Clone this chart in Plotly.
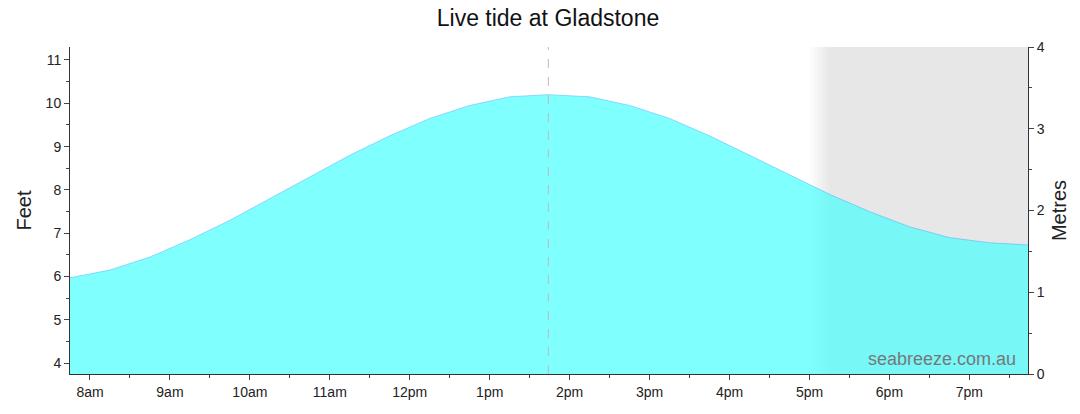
import plotly.graph_objects as go
from datetime import datetime, timedelta

times = ["07:45","08:15","08:45","09:15","09:45","10:15","10:45","11:15","11:45","12:15","12:45","13:15","13:44",
         "14:15","14:45","15:15","15:45","16:15","16:45","17:15","17:45","18:15","18:45","19:15","19:44"]
feet = [5.97,6.15,6.45,6.85,7.3,7.8,8.3,8.8,9.25,9.65,9.95,10.15,10.2,
        10.15,9.95,9.65,9.25,8.8,8.35,7.9,7.5,7.15,6.9,6.78,6.73]
tick_hours = [8,9,10,11,12,13,14,15,16,17,18,19]
tick_labels = ["8am","9am","10am","11am","12pm","1pm","2pm","3pm","4pm","5pm","6pm","7pm"]

d = "2024-01-01 "
x = [d + t for t in times]
fig = go.Figure()
fig.add_trace(go.Scatter(x=x, y=feet, mode="lines", fill="tozeroy", fillcolor="#80FFFF",
                         line=dict(color="#66BBFF", width=0.6), hoverinfo="skip"))
fig.add_trace(go.Scatter(x=[x[0]], y=[0], yaxis="y2", mode="markers", marker=dict(opacity=0), showlegend=False))

shapes = []
start = datetime(2024,1,1,17,0)
for i in range(8):
    s = start + timedelta(minutes=2*i)
    shapes.append(dict(type="rect", xref="x", yref="paper", x0=s, x1=datetime(2024,1,1,19,44), y0=0, y1=1,
                       fillcolor="rgba(0,0,0,0.0065)", line=dict(width=0), layer="below"))
    shapes.append(dict(type="rect", xref="x", yref="paper", x0=s, x1=datetime(2024,1,1,19,44), y0=0, y1=1,
                       fillcolor="rgba(0,40,60,0.004)", line=dict(width=0), layer="above"))
shapes.append(dict(type="line", xref="x", yref="paper", x0=d+"13:44", x1=d+"13:44", y0=0, y1=1,
                   line=dict(color="#BBBBBB", width=1, dash="dash")))
fig.update_layout(
    width=1080, height=414, margin=dict(l=62, r=60, t=39, b=48),
    paper_bgcolor="white", plot_bgcolor="white", showlegend=False,
    title=dict(text="Live tide at Gladstone", x=0.5, xanchor="center", y=0.995, yanchor="top",
               font=dict(family="Liberation Sans, Arial", size=23, color="#111")),
    font=dict(family="Liberation Sans, Arial", size=14, color="#222"),
    xaxis=dict(range=[d+"07:45", d+"19:44"], tickvals=[datetime(2024,1,1,h) for h in tick_hours],
               ticktext=tick_labels, ticks="outside", ticklen=5, showgrid=False, showline=True,
               linecolor="#333", automargin=False,
               minor=dict(ticks="outside", ticklen=3, dtick=30*60*1000, tick0=d+"07:30")),
    yaxis=dict(range=[3.75, 11.3], tickvals=list(range(4,12)), ticks="outside", ticklen=5, showgrid=False,
               showline=True, linecolor="#333", zeroline=False, automargin=False,
               title=dict(text="Feet", font=dict(size=20), standoff=8),
               minor=dict(ticks="outside", ticklen=3, dtick=0.5)),
    yaxis2=dict(range=[0,4], overlaying="y", side="right", tickvals=[0,1,2,3,4], ticks="outside", ticklen=5,
                showgrid=False, showline=True, linecolor="#333", zeroline=False, automargin=False,
                title=dict(text="Metres", font=dict(size=20), standoff=8),
                minor=dict(ticks="outside", ticklen=3, dtick=0.5)),
    shapes=shapes,
    annotations=[dict(text="seabreeze.com.au", xref="paper", yref="paper", x=0.99, y=0.01,
                      xanchor="right", yanchor="bottom", showarrow=False,
                      font=dict(size=18, color="#777"))],
)
fig.write_html("out.html")
